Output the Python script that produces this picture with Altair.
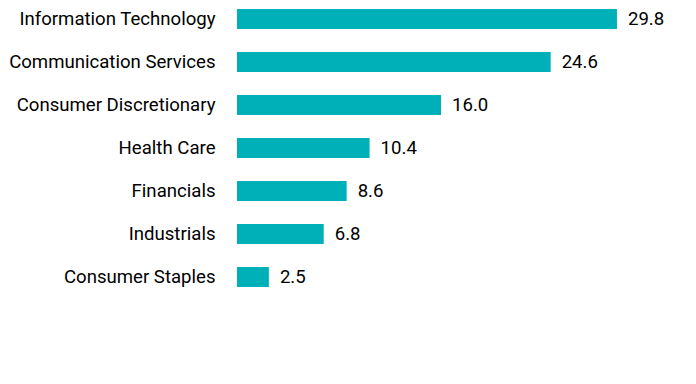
import altair as alt
import pandas as pd

categories = ["Information Technology", "Communication Services", "Consumer Discretionary",
              "Health Care", "Financials", "Industrials", "Consumer Staples"]
values = [29.8, 24.6, 16.0, 10.4, 8.6, 6.8, 2.5]

df = pd.DataFrame({"sector": categories, "weight": values})

y = alt.Y("sector:N", sort=categories, title=None,
          scale=alt.Scale(paddingInner=23/43, paddingOuter=0),
          axis=alt.Axis(domain=False, ticks=False, labelPadding=22, labelFontSize=18.6,
                        labelFont="Roboto", labelColor="#000000", labelLimit=400))
x = alt.X("weight:Q", title=None, scale=alt.Scale(domain=[0, 32]), axis=None)

bars = alt.Chart(df).mark_bar(color="#00B0B9").encode(x=x, y=y)
text = alt.Chart(df).mark_text(align="left", baseline="middle", dx=11, fontSize=18.6,
                               font="Roboto", color="#000000").encode(
    x=x, y=y, text=alt.Text("weight:Q", format=".1f"))

chart = (bars + text).properties(
    width=408, height=278,
    padding={"left": 0, "top": 1, "right": 5, "bottom": 5},
).configure_view(stroke=None)

chart.save("out.html", embed_options={"renderer": "svg", "actions": False})
